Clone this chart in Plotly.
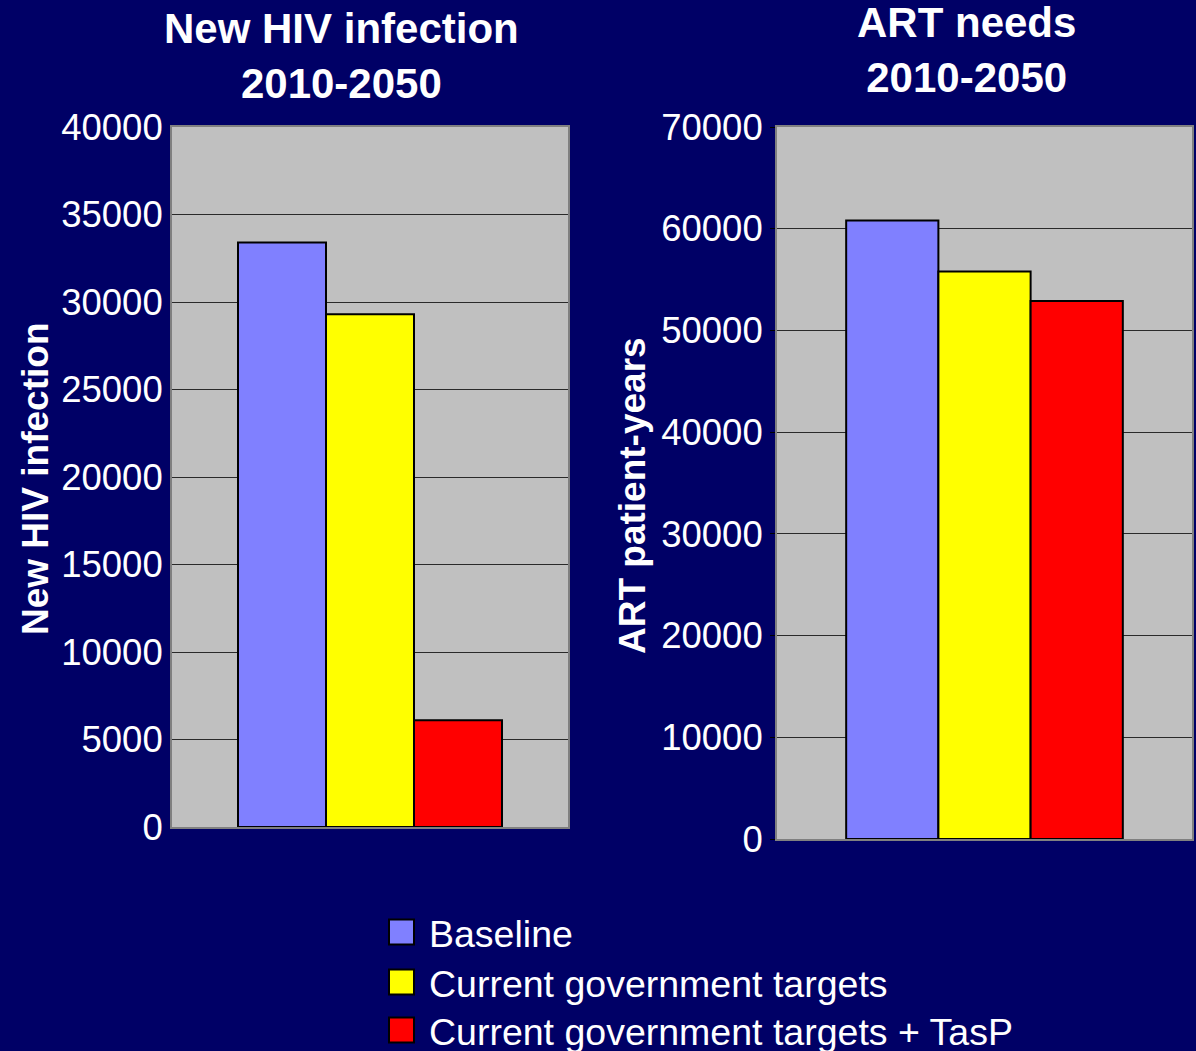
import plotly.graph_objects as go

# Scenario results, 2010-2050
scenarios = ["Baseline", "Current government targets", "Current government targets + TasP"]
new_hiv_infections = [33400, 29300, 6100]
art_patient_years = [60800, 55800, 52900]
period = ["2010-2050"]

bar_colors = ["#8080FF", "#FFFF00", "#FF0000"]
bg = "#000066"
plot_bg = "#C0C0C0"
font_family = "Liberation Sans, Arial, sans-serif"

W, H = 1196, 1051


def px_x(x):
    return x / W


def px_y(y):
    return 1 - y / H


fig = go.Figure()

for name, color, v1, v2 in zip(scenarios, bar_colors, new_hiv_infections, art_patient_years):
    fig.add_trace(go.Bar(x=period, y=[v1], name=name, marker=dict(color=color, line=dict(color="black", width=2)),
                         xaxis="x", yaxis="y", showlegend=False))
    fig.add_trace(go.Bar(x=period, y=[v2], name=name, marker=dict(color=color, line=dict(color="black", width=2)),
                         xaxis="x2", yaxis="y2", showlegend=False))

axis_common = dict(
    showline=True, linecolor="#808080", linewidth=2, mirror=True,
    gridcolor="#2a2a2a", gridwidth=1,
    tickfont=dict(family=font_family, size=36.5, color="white"),
    tickformat="d",
    zeroline=False,
    automargin=False,
)
xaxis_common = dict(showticklabels=False, ticks="", showline=True, linecolor="#808080", linewidth=2,
                    mirror=True, showgrid=False, automargin=False)

fig.update_layout(
    width=W, height=H,
    margin=dict(l=0, r=0, t=0, b=0),
    paper_bgcolor=bg,
    plot_bgcolor=plot_bg,
    barmode="group",
    bargap=1 / 3,
    bargroupgap=0,
    xaxis=dict(domain=[px_x(172), px_x(568)], anchor="y", **xaxis_common),
    yaxis=dict(domain=[px_y(827), px_y(127)], anchor="x", range=[0, 40000], dtick=5000,
               ticks="", ticklabelstandoff=0, **axis_common),
    xaxis2=dict(domain=[px_x(777), px_x(1192)], anchor="y2", **xaxis_common),
    yaxis2=dict(domain=[px_y(839), px_y(127)], anchor="x2", range=[0, 70000], dtick=10000,
                ticks="outside", ticklen=5, tickcolor="black", ticklabelstandoff=0, **axis_common),
    font=dict(family=font_family, color="white"),
)

title_font = dict(family=font_family, size=42, color="white")
ytitle_font = dict(family=font_family, size=37, color="white")
annotations = [
    dict(text="<b>New HIV infection<br>2010-2050</b>", x=px_x(341), y=px_y(56), xref="paper", yref="paper",
         showarrow=False, font=title_font, xanchor="center", yanchor="middle"),
    dict(text="<b>ART needs<br>2010-2050</b>", x=px_x(966), y=px_y(50), xref="paper", yref="paper",
         showarrow=False, font=title_font, xanchor="center", yanchor="middle"),
    dict(text="<b>New HIV infection</b>", x=px_x(35), y=px_y(479), xref="paper", yref="paper",
         showarrow=False, textangle=-90, font=ytitle_font, xanchor="center", yanchor="middle"),
    dict(text="<b>ART patient-years</b>", x=px_x(632), y=px_y(496), xref="paper", yref="paper",
         showarrow=False, textangle=-90, font=ytitle_font, xanchor="center", yanchor="middle"),
]

# Legend drawn as colour swatches with labels below the charts
shapes = []
legend_rows = [932, 982, 1030]
for name, color, yc in zip(scenarios, bar_colors, legend_rows):
    shapes.append(dict(type="rect", xref="paper", yref="paper",
                       x0=px_x(389), x1=px_x(414), y0=px_y(yc + 12.5), y1=px_y(yc - 12.5),
                       fillcolor=color, line=dict(color="black", width=2)))
    annotations.append(dict(text=name, x=px_x(427), y=px_y(yc + 2), xref="paper", yref="paper",
                            showarrow=False, xanchor="left", yanchor="middle",
                            font=dict(family=font_family, size=37.5, color="white")))

fig.update_layout(annotations=annotations, shapes=shapes)

fig.write_html("out.html")
